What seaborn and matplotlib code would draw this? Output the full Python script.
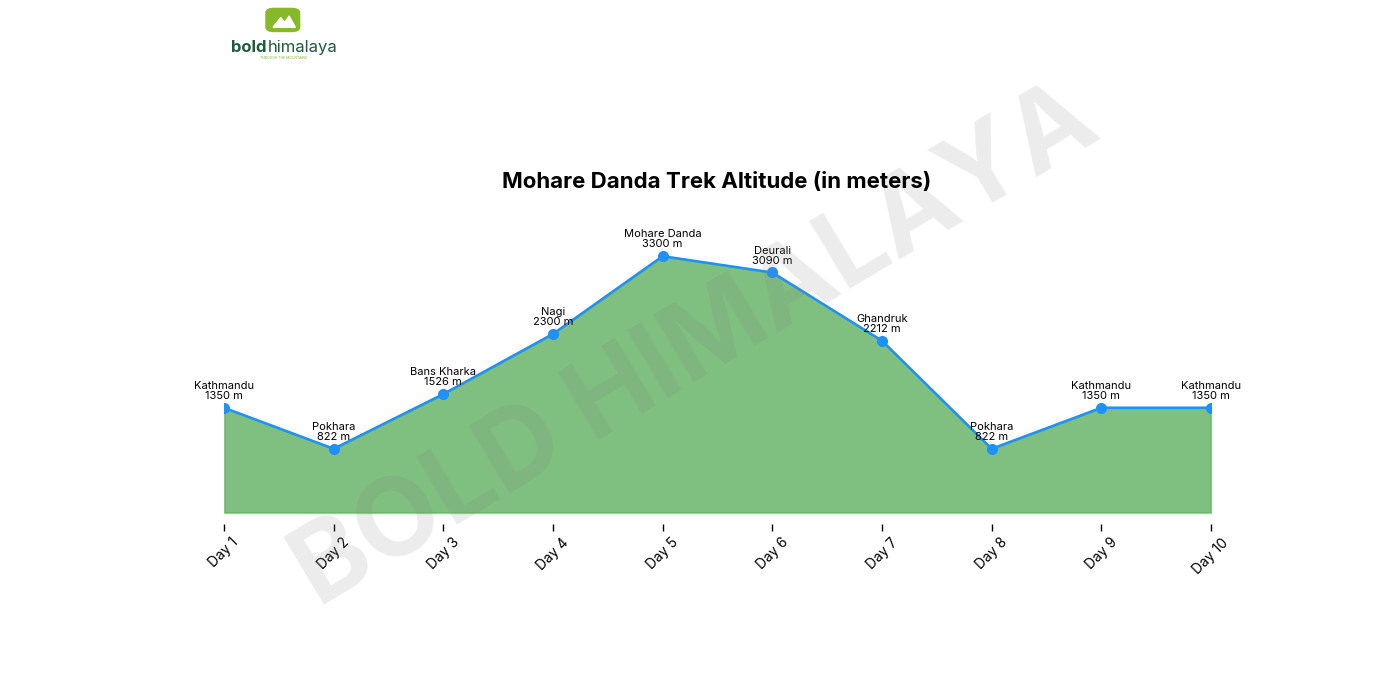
import matplotlib.pyplot as plt
import matplotlib.patches as mpatches
import seaborn as sns
import pandas as pd

days = ["Day 1", "Day 2", "Day 3", "Day 4", "Day 5", "Day 6", "Day 7", "Day 8", "Day 9", "Day 10"]
places = ["Kathmandu", "Pokhara", "Bans Kharka", "Nagi", "Mohare Danda", "Deurali",
          "Ghandruk", "Pokhara", "Kathmandu", "Kathmandu"]
altitudes = [1350, 822, 1526, 2300, 3300, 3090, 2212, 822, 1350, 1350]

sns.set_style("white")
plt.rcParams["font.family"] = ["Inter", "DejaVu Sans"]
plt.rcParams["text.color"] = "black"
plt.rcParams["xtick.color"] = "black"

df = pd.DataFrame({"pos": range(len(days)), "alt": altitudes})

fig = plt.figure(figsize=(14, 7), dpi=100)
ax = fig.add_axes([0.16, 0.251, 0.705, 0.463])

ax.fill_between(df["pos"], df["alt"], color="green", alpha=0.5, linewidth=1.5,
                edgecolor="#4caf50")
sns.lineplot(data=df, x="pos", y="alt", ax=ax, color="#1e90ff", linewidth=1.8,
             marker="o", markersize=8, markeredgewidth=0, zorder=5)

for i, (p, a) in enumerate(zip(places, altitudes)):
    ax.annotate(f"{p}\n{a} m", (i, a), xytext=(0, 5), textcoords="offset points",
                ha="center", va="bottom", fontsize=8, linespacing=1.0, zorder=6)

ax.set_xlim(0, len(days) - 1)
ax.set_ylim(-150, 4020)
ax.set_xticks(range(len(days)))
ax.set_xticklabels(days, rotation=45, ha="center", fontsize=10)
ax.tick_params(axis="x", length=5, width=1, color="black", bottom=True, pad=3)
ax.set_yticks([])
ax.set_xlabel("")
ax.set_ylabel("")
for s in ax.spines.values():
    s.set_visible(False)

fig.text(0.512, 0.74, "Mohare Danda Trek Altitude (in meters)", ha="center", va="center",
         fontsize=16, fontweight="bold")

# watermark
fig.text(0.497, 0.503, "BOLD HIMALAYA", ha="center", va="center", rotation=31,
         fontsize=78, fontweight="bold", color="#808080", alpha=0.15, zorder=0)

# logo
fig.patches.append(mpatches.FancyBboxPatch((0.191, 0.956), 0.022, 0.031,
                                           boxstyle="round,pad=0.001,rounding_size=0.006",
                                           transform=fig.transFigure, color="#86b82a"))
fig.patches.append(mpatches.Polygon([(0.195, 0.961), (0.2005, 0.975), (0.206, 0.961)],
                                    closed=True, transform=fig.transFigure, color="white"))
fig.patches.append(mpatches.Polygon([(0.201, 0.961), (0.2065, 0.977), (0.211, 0.961)],
                                    closed=True, transform=fig.transFigure, color="white"))
fig.text(0.165, 0.932, "bold", fontsize=12, fontweight="bold", color="#1d5b3a", va="center")
fig.text(0.1915, 0.932, "himalaya", fontsize=12, color="#1d5b3a", va="center")
fig.text(0.2025, 0.917, "THROUGH THE MOUNTAINS", fontsize=2.5, color="#86b82a",
         ha="center", va="center")

fig.savefig("out.png", dpi=100)
